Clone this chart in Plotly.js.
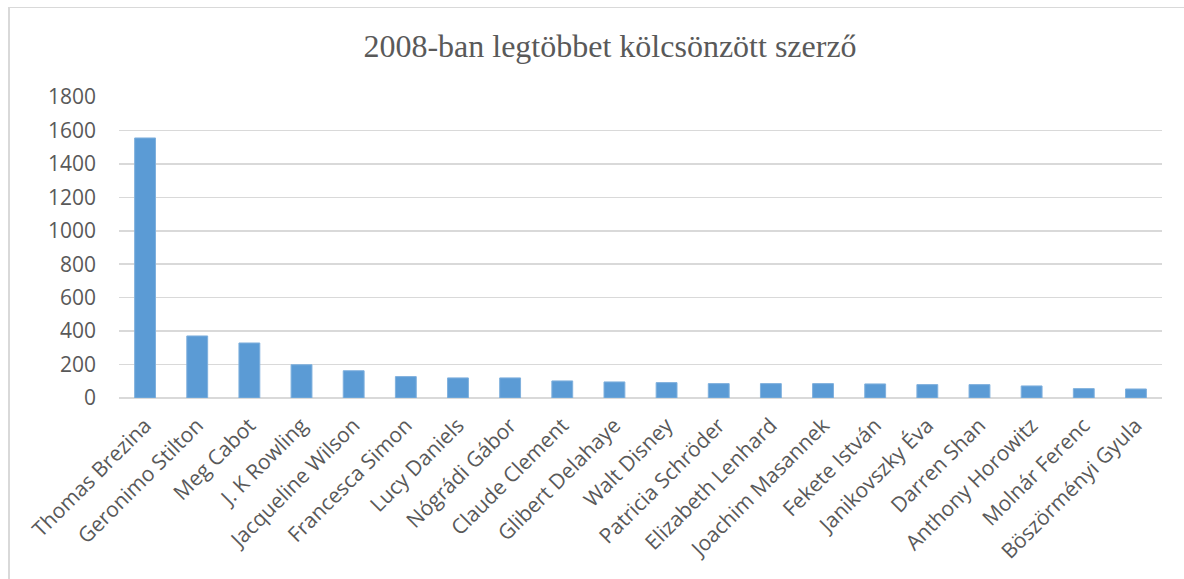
<!DOCTYPE html>
<html>
<head>
<meta charset="utf-8">
<script src="https://cdn.plot.ly/plotly-3.0.1.min.js"></script>
<style>
  html, body { margin: 0; padding: 0; background: #fff; overflow: hidden; }
  #frame { position: absolute; left: 8px; top: 7px; width: 1300px; height: 700px;
           border-top: 1px solid #d9d9d9; border-left: 2px solid #d9d9d9; }
  #chart { position: absolute; left: 0; top: 0; width: 1184px; height: 579px; }
</style>
</head>
<body>
<div id="frame"></div>
<div id="chart"></div>
<script>
const authors = ["Thomas Brezina", "Geronimo Stilton", "Meg Cabot", "J. K Rowling", "Jacqueline Wilson",
  "Francesca Simon", "Lucy Daniels", "Nógrádi Gábor", "Claude Clement", "Glibert Delahaye",
  "Walt Disney", "Patricia Schröder", "Elizabeth Lenhard", "Joachim Masannek", "Fekete István",
  "Janikovszky Éva", "Darren Shan", "Anthony Horowitz", "Molnár Ferenc", "Böszörményi Gyula"];
const loans = [1555, 371, 329, 199, 163, 128, 120, 120, 102, 96, 92, 86, 86, 86, 84, 80, 80, 72, 56, 54];
const yTicks = [0, 200, 400, 600, 800, 1000, 1200, 1400, 1600, 1800];
const chartTitle = "2008-ban legtöbbet kölcsönzött szerző";

const trace = {
  type: "bar",
  x: authors,
  y: loans,
  marker: { color: "#5b9bd5", line: { color: "#7fb0dd", width: 1 } },
  hoverinfo: "x+y"
};

const layout = {
  width: 1184, height: 579,
  paper_bgcolor: "rgba(0,0,0,0)", plot_bgcolor: "rgba(0,0,0,0)",
  margin: { l: 119, r: 22, t: 97, b: 181 },
  bargap: 0.6,
  showlegend: false,
  title: {
    text: chartTitle,
    font: { family: "Liberation Serif, Times New Roman, serif", size: 32, color: "#595959" },
    xref: "container", x: 610 / 1184, xanchor: "center",
    yref: "container", y: 1 - 46 / 579, yanchor: "middle"
  },
  xaxis: {
    type: "category",
    tickangle: -45,
    tickfont: { family: "'Open Sans', sans-serif", size: 21, color: "#595959" },
    showgrid: false, zeroline: false,
    showline: false, ticks: "", ticklen: 0, ticklabelstandoff: 10
  },
  yaxis: {
    range: [0, 1800],
    tickmode: "array", tickvals: yTicks, ticktext: yTicks.map(String),
    tickfont: { family: "'Open Sans', sans-serif", size: 21, color: "#595959" },
    showgrid: true, gridcolor: "#d9d9d9", gridwidth: 1.5,
    zeroline: true, zerolinecolor: "#d9d9d9", zerolinewidth: 1.5,
    showline: false, ticks: "", ticklabelstandoff: 22
  }
};

Plotly.newPlot("chart", [trace], layout, { displayModeBar: false, staticPlot: true });
</script>
</body>
</html>
